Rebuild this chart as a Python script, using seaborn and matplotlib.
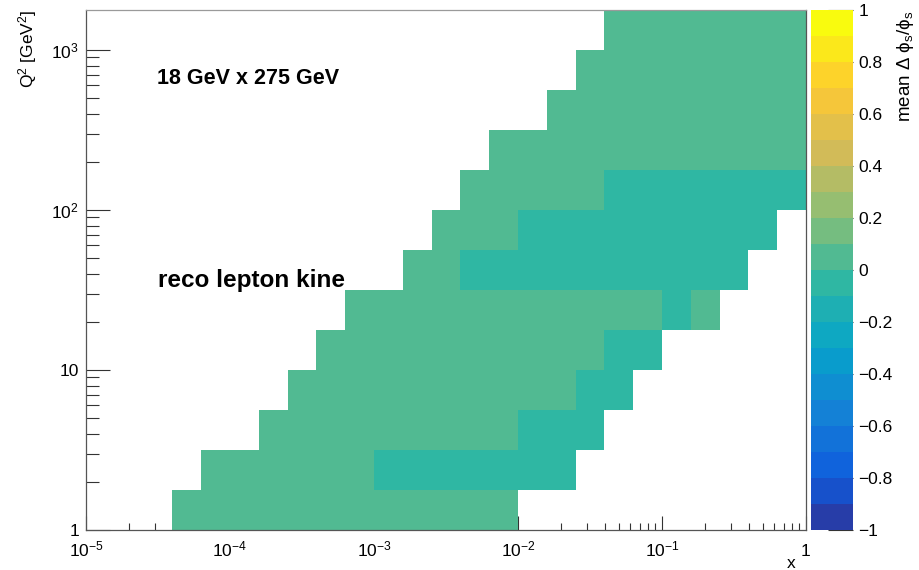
import numpy as np
import pandas as pd
import matplotlib
matplotlib.use("Agg")
import matplotlib.pyplot as plt
from matplotlib.colors import LinearSegmentedColormap, ListedColormap
import seaborn as sns

# ---------------- binning (log10 edges) ----------------
x_log_range = (-5, 0)          # x from 1e-5 to 1
x_bins_per_decade = 5
q2_log_range = (0, 3.25)       # Q2 from 1 to 10^3.25
q2_bins_per_decade = 4

# ---------------- cell values: mean delta phi_s / phi_s ----------------
_ = np.nan
G = 0.03    # cells in the 0 .. 0.1 band
T = -0.03   # cells in the -0.1 .. 0 band
# rows from lowest Q2 bin (row 0) upward, 25 x-bins each
mean_dphi = [
    [_, _, _, G, G, G, G, G, G, G, G, G, G, G, G, _, _, _, _, _, _, _, _, _, _],
    [_, _, _, _, G, G, G, G, G, G, T, T, T, T, T, T, T, _, _, _, _, _, _, _, _],
    [_, _, _, _, _, _, G, G, G, G, G, G, G, G, G, T, T, T, _, _, _, _, _, _, _],
    [_, _, _, _, _, _, _, G, G, G, G, G, G, G, G, G, G, T, T, _, _, _, _, _, _],
    [_, _, _, _, _, _, _, _, G, G, G, G, G, G, G, G, G, G, T, T, _, _, _, _, _],
    [_, _, _, _, _, _, _, _, _, G, G, G, G, G, G, G, G, G, G, G, T, G, _, _, _],
    [_, _, _, _, _, _, _, _, _, _, _, G, G, T, T, T, T, T, T, T, T, T, T, _, _],
    [_, _, _, _, _, _, _, _, _, _, _, _, G, G, G, T, T, T, T, T, T, T, T, T, _],
    [_, _, _, _, _, _, _, _, _, _, _, _, _, G, G, G, G, G, T, T, T, T, T, T, T],
    [_, _, _, _, _, _, _, _, _, _, _, _, _, _, G, G, G, G, G, G, G, G, G, G, G],
    [_, _, _, _, _, _, _, _, _, _, _, _, _, _, _, _, G, G, G, G, G, G, G, G, G],
    [_, _, _, _, _, _, _, _, _, _, _, _, _, _, _, _, _, G, G, G, G, G, G, G, G],
    [_, _, _, _, _, _, _, _, _, _, _, _, _, _, _, _, _, _, G, G, G, G, G, G, G],
]

x_major_labels = [r"10$^{\mathregular{-5}}$", r"10$^{\mathregular{-4}}$",
                  r"10$^{\mathregular{-3}}$", r"10$^{\mathregular{-2}}$",
                  r"10$^{\mathregular{-1}}$", "1"]
y_major_labels = ["1", "10", r"10$^{\mathregular{2}}$", r"10$^{\mathregular{3}}$"]
z_ticks = [-1, -0.8, -0.6, -0.4, -0.2, 0, 0.2, 0.4, 0.6, 0.8, 1]
z_labels = ["\u22121", "\u22120.8", "\u22120.6", "\u22120.4", "\u22120.2", "0",
            "0.2", "0.4", "0.6", "0.8", "1"]

# ROOT kBird palette
bird_stops = [0.0, 0.125, 0.25, 0.375, 0.5, 0.625, 0.75, 0.875, 1.0]
bird_r = [0.2082, 0.0592, 0.0780, 0.0232, 0.1802, 0.5301, 0.8186, 0.9956, 0.9764]
bird_g = [0.1664, 0.3599, 0.5041, 0.6419, 0.7178, 0.7492, 0.7328, 0.7862, 0.9832]
bird_b = [0.5293, 0.8684, 0.8385, 0.7914, 0.6425, 0.4662, 0.3499, 0.1968, 0.0539]
n_levels = 20

# ---------------- style ----------------
sns.set_style("white")
plt.rcParams["font.family"] = ["Liberation Sans", "DejaVu Sans"]
plt.rcParams["mathtext.fontset"] = "custom"
plt.rcParams["mathtext.rm"] = "Liberation Sans"
plt.rcParams["mathtext.it"] = "Liberation Sans:italic"
plt.rcParams["mathtext.bf"] = "Liberation Sans:bold"
plt.rcParams["axes.unicode_minus"] = True
plt.rcParams["text.color"] = "black"
plt.rcParams["xtick.labelcolor"] = "black"
plt.rcParams["ytick.labelcolor"] = "black"

bird = LinearSegmentedColormap.from_list(
    "kBird", list(zip(bird_stops, zip(bird_r, bird_g, bird_b))))
cmap = ListedColormap([bird((i + 1) / n_levels) for i in range(n_levels)])

W, H = 920, 570
fig = plt.figure(figsize=(W / 100, H / 100), dpi=100)
fig.patch.set_facecolor("white")
L, R, B, T_ = 86, 806, 530, 10
ax = fig.add_axes([L / W, 1 - B / H, (R - L) / W, (B - T_) / H])
cax = fig.add_axes([811 / W, 1 - B / H, 42 / W, (B - T_) / H])

df = pd.DataFrame(mean_dphi)
sns.heatmap(df, ax=ax, cmap=cmap, vmin=-1, vmax=1, cbar=True, cbar_ax=cax,
            xticklabels=False, yticklabels=False, linewidths=0)

nx = df.shape[1]
ny = df.shape[0]
ax.set_xlim(0, nx)
ax.set_ylim(0, ny)

# ticks in bin coordinates (bins uniform in log10)
def xpos(lv):
    return (lv - x_log_range[0]) * x_bins_per_decade

def ypos(lv):
    return (lv - q2_log_range[0]) * q2_bins_per_decade

xmaj = [xpos(d) for d in range(x_log_range[0], x_log_range[1] + 1)]
xmin = [xpos(d + np.log10(m)) for d in range(x_log_range[0], x_log_range[1])
        for m in range(2, 10)]
ymaj = [ypos(d) for d in range(0, 4)]
ymin = [ypos(d + np.log10(m)) for d in range(0, 4) for m in range(2, 10)
        if d + np.log10(m) <= q2_log_range[1]]

ax.set_xticks(xmaj)
ax.set_xticklabels(x_major_labels, fontsize=12.5)
ax.set_xticks(xmin, minor=True)
ax.set_yticks(ymaj)
ax.set_yticklabels(y_major_labels, fontsize=12.5, rotation=0)
ax.set_yticks(ymin, minor=True)

tc = "#333333"
ax.tick_params(axis="x", which="major", direction="in", length=10, width=0.8,
               color=tc, pad=19, bottom=True, top=False)
ax.tick_params(axis="x", which="minor", direction="in", length=5, width=0.8,
               color=tc, bottom=True, top=False)
ax.tick_params(axis="y", which="major", direction="in", length=17, width=0.8,
               color=tc, pad=5, left=True, right=False)
ax.tick_params(axis="y", which="minor", direction="in", length=9, width=0.8,
               color=tc, left=True, right=False)
for lbl in ax.get_xticklabels():
    lbl.set_verticalalignment("baseline")
# the lowest y label sits just above the x labels, as in the reference
ax.get_yticklabels()[0].set_verticalalignment("center_baseline")

for name, s in ax.spines.items():
    s.set_visible(True)
    s.set_linewidth(0.9)
    s.set_color("#555555" if name in ("left", "bottom") else "#9a9a9a")
ax.spines["right"].set_color("#555555")

# colorbar
cbar = ax.collections[0].colorbar
cbar.set_ticks(z_ticks)
cbar.set_ticklabels(z_labels)
cbar.outline.set_visible(False)
cax.tick_params(axis="y", direction="in", length=18, width=0.8, color=tc,
                labelsize=12.5, right=True, left=False, labelright=True, pad=4)
cax.minorticks_off()

# labels
fig.text(28 / W, 1 - 10 / H, r"Q$^{\mathregular{2}}$ [GeV$^{\mathregular{2}}$]",
         rotation=90, ha="center", va="top", fontsize=12.5)
fig.text(796 / W, 1 - 563 / H, "x", ha="right", va="center", fontsize=12.5)
fig.text(906 / W, 1 - 10 / H, r"mean $\mathregular{\Delta}$ $\mathregular{\phi_s/\phi_s}$",
         rotation=90, ha="center", va="top", fontsize=13.5)

ax.text((157 - L) / (R - L), (B - 78) / (B - T_), "18 GeV x 275 GeV",
        transform=ax.transAxes, ha="left", va="center", fontsize=15.5,
        fontweight="bold", color="black")
ax.text((158 - L) / (R - L), (B - 280) / (B - T_), "reco lepton kine",
        transform=ax.transAxes, ha="left", va="center", fontsize=17.5,
        fontweight="bold", color="black")

fig.savefig("out.png", dpi=100, facecolor="white")
